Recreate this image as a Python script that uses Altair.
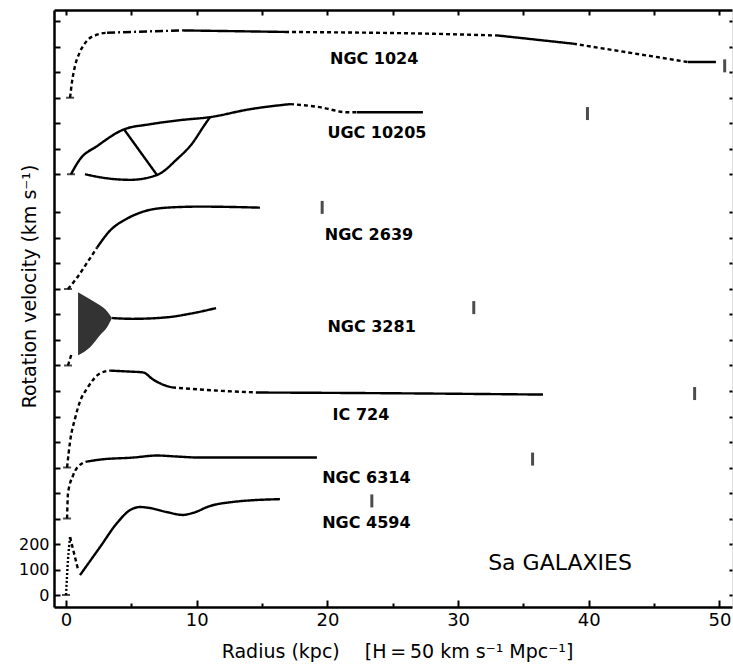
import altair as alt
import pandas as pd

FONT = "DejaVu Sans"

# ---------------- data ----------------
galaxies = ["NGC 1024", "UGC 10205", "NGC 2639", "NGC 3281", "IC 724", "NGC 6314", "NGC 4594"]
zero_levels = [1950, 1650, 1200, 900, 500, 300, 0]   # vertical offset of each curve (km/s)

# radius (kpc), rotation velocity (km/s); link = style of the piece to the next point
# s solid, d dashed, dd dash-dot, o dotted, - no line
ngc1024_r = [0.31, 0.46, 0.69, 1.07, 1.61, 2.37, 3.14, 8.88, 16.76, 27.85, 33.05, 38.79, 47.59, 49.73]
ngc1024_v = [0, 63, 125, 180, 224, 247, 255, 264, 258, 251, 244, 212, 140, 140]
ngc1024_link = ["d", "d", "d", "d", "d", "d", "dd", "s", "d", "d", "s", "d", "s"]

ugc10205_r = [0.38, 1.07, 2.37, 4.44, 6.43, 8.72, 11.02, 14.08, 17.14, 19.43, 21.5, 22.26, 27.31,
              1.45, 3.14, 4.9, 6.96, 8.49, 9.72, 10.48, 11.02,
              4.44, 6.96]
ugc10205_v = [0, 59, 110, 176, 196, 212, 224, 255, 275, 263, 243, 243, 243,
              0, -16, -22, -3, 59, 125, 184, 224,
              176, -3]
ugc10205_link = ["s", "s", "s", "s", "s", "s", "s", "s", "d", "d", "d", "s", "-",
                 "s", "s", "s", "s", "s", "s", "s", "-",
                 "s"]

ngc2639_r = [0.15, 0.84, 1.61, 2.37, 3.37, 4.67, 5.89, 7.73, 10.25, 14.84]
ngc2639_v = [0, 44, 103, 162, 229, 276, 303, 319, 323, 319]
ngc2639_link = ["d", "d", "d", "s", "s", "s", "s", "s", "s"]

ngc3281_r = [0.15, 0.46, 3.52, 5.13, 7.73, 9.49, 11.48]
ngc3281_v = [0, 52, 186, 183, 189, 203, 225]
ngc3281_link = ["d", "-", "s", "s", "s", "s"]
# uncertain inner region of NGC 3281 (shaded)
ngc3281_band_r = [0.92, 1.84, 2.6, 3.14, 3.52]
ngc3281_band_hi = [287, 260, 236, 213, 186]
ngc3281_band_lo = [40, 72, 119, 150, 186]

ic724_r = [0.08, 0.31, 0.69, 1.07, 1.61, 2.6, 3.37, 4.9, 5.89, 6.66, 7.42, 8.11, 11.4, 14.69, 22.5, 36.5]
ic724_v = [0, 102, 192, 259, 310, 369, 380, 376, 373, 345, 325, 314, 302, 294, 292, 286]
ic724_link = ["d", "d", "d", "d", "d", "d", "s", "s", "s", "s", "s", "d", "d", "s", "s"]

ngc6314_r = [0.08, 0.15, 0.54, 1.22, 1.68, 2.6, 5.13, 6.96, 8.49, 10.25, 19.2]
ngc6314_v = [0, 98, 169, 216, 224, 231, 239, 247, 243, 239, 239]
ngc6314_link = ["d", "d", "d", "d", "s", "s", "s", "s", "s", "s"]

ngc4594_r = [0.0, 0.15, 0.31, 0.92, 1.07, 2.6, 3.9, 4.9, 5.66, 6.43, 7.73, 8.95, 9.72, 11.02, 12.78, 16.37]
ngc4594_v = [0, 137, 227, 100, 78, 188, 282, 333, 345, 341, 325, 314, 322, 349, 365, 376]
ngc4594_link = ["o", "o", "d", "-", "s", "s", "s", "s", "s", "s", "s", "s", "s", "s", "s"]

# outer-radius markers (kpc, km/s above each curve's zero)
marker_r = [50.4, 39.9, 19.6, 31.2, 48.1, 35.7, 23.4]
marker_v = [125, 238, 320, 227, 290, 233, 369]

# axis ticks / labels
x_label_values = [0, 10, 20, 30, 40, 50]
x_minor_values = [5, 15, 25, 35, 45]
x_top_values = [0, 5, 10, 15, 20, 25, 30, 35, 40, 45, 50]
y_label_values = [0, 100, 200]
y_tick_values = list(range(0, 1600, 100)) + list(range(1650, 2300, 100))

# text placement (kpc, km/s)
label_r = [20.2, 20.0, 19.8, 20.0, 20.4, 19.6, 19.6]
label_y = [2084, 1792, 1392, 1033, 686, 439, 263]
caption = "Sa GALAXIES"
caption_r = 32.3
caption_y = 98

# ---------------- build tables ----------------
curves = [
    ("NGC 1024", ngc1024_r, ngc1024_v, ngc1024_link),
    ("UGC 10205", ugc10205_r, ugc10205_v, ugc10205_link),
    ("NGC 2639", ngc2639_r, ngc2639_v, ngc2639_link),
    ("NGC 3281", ngc3281_r, ngc3281_v, ngc3281_link),
    ("IC 724", ic724_r, ic724_v, ic724_link),
    ("NGC 6314", ngc6314_r, ngc6314_v, ngc6314_link),
    ("NGC 4594", ngc4594_r, ngc4594_v, ngc4594_link),
]
zero_of = dict(zip(galaxies, zero_levels))

rows = []
seg = 0
for name, r, v, links in curves:
    z = zero_of[name]
    prev = None
    k = 0
    for i, st in enumerate(links):
        if st == "-":
            prev = None
            continue
        if st != prev:
            seg += 1
            k = 0
            rows.append(dict(galaxy=name, seg=seg, style=st, k=k, r=r[i], y=v[i] + z))
        k += 1
        rows.append(dict(galaxy=name, seg=seg, style=st, k=k, r=r[i + 1], y=v[i + 1] + z))
        prev = st
line_df = pd.DataFrame(rows)

zero_df = pd.DataFrame({
    "galaxy": galaxies,
    "r": [c[1][0] for c in curves],
    "y": zero_levels,
})
marker_df = pd.DataFrame({
    "galaxy": galaxies,
    "r": marker_r,
    "y": [v + z for v, z in zip(marker_v, zero_levels)],
})
band_df = pd.DataFrame({
    "r": ngc3281_band_r,
    "hi": [v + zero_of["NGC 3281"] for v in ngc3281_band_hi],
    "lo": [v + zero_of["NGC 3281"] for v in ngc3281_band_lo],
})
label_df = pd.DataFrame({
    "text": galaxies,
    "r": label_r,
    "y": label_y,
})
caption_df = pd.DataFrame({"text": [caption], "r": [caption_r], "y": [caption_y]})

# ---------------- chart ----------------
W, H = 678, 597
xs = alt.Scale(domain=[-0.92, 50.96], nice=False, zero=False)
ys = alt.Scale(domain=[-47, 2294], nice=False, zero=False)

tick_axis = dict(labels=False, domain=False, grid=False, title=None,
                 tickColor="black", tickWidth=2)

lines = alt.Chart(line_df).mark_line(
    color="black", strokeWidth=2.4, interpolate="monotone",
    strokeCap="butt", strokeJoin="round").encode(
    x=alt.X("r:Q", scale=xs, axis=alt.Axis(
        orient="bottom", values=x_label_values, ticks=False, tickSize=0,
        labelFont=FONT, labelFontSize=18, labelColor="black", labelPadding=4,
        labelFlush=False, domainColor="black", domainWidth=2.5, grid=False,
        title="Radius (kpc)\u2003\u00a0[H\u2009=\u200950 km s\u207b\u00b9 Mpc\u207b\u00b9]",
        titleFont=FONT, titleFontSize=19, titleFontWeight="normal", titleColor="black",
        titleX=343, titleY=50, titleAlign="center", titleBaseline="alphabetic")),
    y=alt.Y("y:Q", scale=ys, axis=alt.Axis(
        orient="left", values=y_label_values, ticks=False, tickSize=0,
        labelFont=FONT, labelFontSize=16, labelColor="black", labelPadding=5,
        labelFlush=False, domainColor="black", domainWidth=2.5, grid=False,
        title="Rotation velocity (km s\u207b\u00b9)",
        titleFont=FONT, titleFontSize=19, titleFontWeight="normal", titleColor="black",
        titleAngle=270, titleX=-19, titleY=276, titleAlign="center",
        titleBaseline="alphabetic")),
    strokeDash=alt.StrokeDash("style:N", scale=alt.Scale(
        domain=["s", "d", "dd", "o"],
        range=[[1, 0], [4, 3], [8, 3, 2, 3], [2, 2]]), legend=None),
    detail="seg:N",
    order="k:Q",
)

band = alt.Chart(band_df).mark_area(color="#333333", interpolate="monotone").encode(
    x=alt.X("r:Q", scale=xs, axis=alt.Axis(orient="top", offset=-H,
                                            values=x_label_values, tickSize=7, **tick_axis)),
    y=alt.Y("hi:Q", scale=ys, axis=alt.Axis(orient="right", offset=-W,
                                             values=y_tick_values, tickSize=6, **tick_axis)),
    y2="lo:Q",
)

markers = alt.Chart(marker_df).mark_tick(
    orient="vertical", size=13, thickness=3, color="black").encode(
    x=alt.X("r:Q", scale=xs, axis=alt.Axis(orient="top", offset=-H,
                                            values=x_minor_values, tickSize=4, **tick_axis)),
    y=alt.Y("y:Q", scale=ys, axis=alt.Axis(orient="left", offset=-W,
                                            values=y_tick_values, tickSize=3, **tick_axis)),
)

zeros = alt.Chart(zero_df).mark_tick(
    orient="horizontal", size=8, thickness=2, color="black").encode(
    x=alt.X("r:Q", scale=xs, axis=alt.Axis(
        orient="bottom", offset=-H, values=x_top_values, tickSize=5,
        labels=False, grid=False, title=None, tickColor="black", tickWidth=2,
        domain=True, domainColor="black", domainWidth=2.5)),
    y=alt.Y("y:Q", scale=ys, axis=None),
)

labels = alt.Chart(label_df).mark_text(
    align="left", baseline="alphabetic", font=FONT, fontSize=16,
    fontWeight="bold", color="black").encode(
    x=alt.X("r:Q", scale=xs, axis=None),
    y=alt.Y("y:Q", scale=ys, axis=None),
    text="text:N",
)

cap = alt.Chart(caption_df).mark_text(
    align="left", baseline="alphabetic", font=FONT, fontSize=22,
    color="black").encode(
    x=alt.X("r:Q", scale=xs, axis=None),
    y=alt.Y("y:Q", scale=ys, axis=None),
    text="text:N",
)

chart = alt.layer(lines, band, markers, zeros, labels, cap).resolve_axis(
    x="independent", y="independent"
).properties(
    width=W, height=H,
    autosize=alt.AutoSizeParams(type="none"),
    padding={"left": 54, "top": 10, "right": 1, "bottom": 60},
).configure_view(stroke=None).configure(background="white")

chart.save("out.html", embed_options={"renderer": "svg", "actions": False})
